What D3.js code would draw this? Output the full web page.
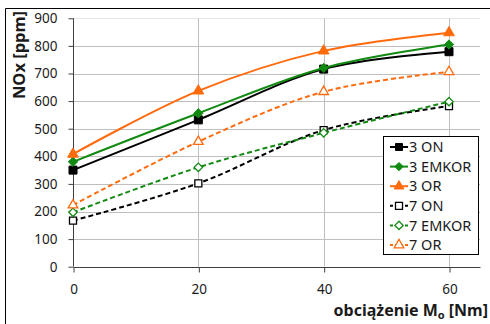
<!DOCTYPE html>
<html>
<head>
<meta charset="utf-8">
<script src="https://cdn.jsdelivr.net/npm/d3@7"></script>
<style>
    body { margin: 0; background: #fff; }
    text { font-family: "Noto Sans", sans-serif; fill: #1a1a1a; }
</style>
</head>
<body>
<div id="chart"></div>
<script>
// load values [Nm]
const loads = [0, 20, 40, 60];
const yTicks = [0, 100, 200, 300, 400, 500, 600, 700, 800, 900];

// NOx [ppm] per series
const on3 = [350, 532, 716, 779];
const emkor3 = [380, 556, 720, 805];
const or3 = [408, 637, 782, 848];
const on7 = [167, 302, 495, 582];
const emkor7 = [197, 360, 485, 598];
const or7 = [223, 453, 634, 706];

const seriesNames = ["3 ON", "3 EMKOR", "3 OR", "7 ON", "7 EMKOR", "7 OR"];
const seriesValues = [on3, emkor3, or3, on7, emkor7, or7];

const styles = [
    { color: "#000000", shape: "square", filled: true, dash: null },
    { color: "#128a12", shape: "diamond", filled: true, dash: null },
    { color: "#ff6a0d", shape: "triangle", filled: true, dash: null },
    { color: "#000000", shape: "square", filled: false, dash: "5,3" },
    { color: "#128a12", shape: "diamond", filled: false, dash: "5,3" },
    { color: "#ff6a0d", shape: "triangle", filled: false, dash: "5,3" }
];

const width = 490, height = 324;
const svg = d3.select("#chart").append("svg")
    .attr("width", width)
    .attr("height", height);

// outer frame (cropped on right/bottom)
svg.append("path")
    .attr("d", "M5.5,330 V8.5 H495")
    .attr("fill", "none")
    .attr("stroke", "#000")
    .attr("stroke-width", 1);

const x = d3.scaleLinear().domain([0, 60]).range([73, 449]);
const y = d3.scaleLinear().domain([0, 900]).range([266.7, 18.3]);
const plotRight = 480;

// gridlines
svg.append("g").selectAll("line")
    .data(yTicks.slice(1))
    .enter().append("line")
    .attr("x1", x(0)).attr("x2", plotRight)
    .attr("y1", d => Math.round(y(d)) + 0.5)
    .attr("y2", d => Math.round(y(d)) + 0.5)
    .attr("stroke", d => d === 900 ? "#e4e4e4" : "#bfbfbf")
    .attr("stroke-width", 1);

svg.append("g").selectAll("line")
    .data(loads.slice(1))
    .enter().append("line")
    .attr("y1", y(900)).attr("y2", y(0))
    .attr("x1", d => Math.round(x(d)) + 0.5)
    .attr("x2", d => Math.round(x(d)) + 0.5)
    .attr("stroke", "#bfbfbf")
    .attr("stroke-width", 1);

// axes
const xAxis = svg.append("g")
    .attr("transform", `translate(0.5,${Math.round(y(0)) + 0.5})`)
    .call(d3.axisBottom(x).tickValues(loads).tickSize(5).tickSizeOuter(0).tickFormat(d3.format("d")));
xAxis.select(".domain").attr("d", `M${x(0)},0H${plotRight}`);
xAxis.selectAll("line").attr("stroke", "#404040");
xAxis.select(".domain").attr("stroke", "#404040");
xAxis.selectAll("text")
    .attr("y", 22)
    .attr("dy", "0.35em")
    .style("font-family", "Noto Sans")
    .style("font-size", "13.5px")
    .attr("fill", "#1a1a1a");

const yAxis = svg.append("g")
    .attr("transform", `translate(${Math.round(x(0)) + 0.5},0)`)
    .call(d3.axisLeft(y).tickValues(yTicks).tickSize(5).tickSizeOuter(0));
yAxis.select(".domain").attr("stroke", "#404040").attr("d", `M0,${y(0)}V${y(900)}`);
yAxis.selectAll("line").attr("stroke", "#404040");
yAxis.selectAll("text")
    .attr("x", -16)
    .style("font-family", "Noto Sans")
    .style("font-size", "13.5px")
    .attr("fill", "#1a1a1a");

// axis titles
svg.append("text")
    .attr("transform", "translate(25,55) rotate(-90)")
    .attr("text-anchor", "middle")
    .style("font-size", "16.5px")
    .style("font-weight", "bold")
    .text("NOx [ppm]");

const xt = svg.append("text")
    .attr("x", 488)
    .attr("y", 316)
    .attr("text-anchor", "end")
    .style("font-size", "16px")
    .style("font-weight", "bold");
xt.append("tspan").text("obciążenie M");
xt.append("tspan").attr("dy", 3).style("font-size", "11px").text("o");
xt.append("tspan").attr("dy", -3).text(" [Nm]");

// markers
function marker(g, s, size) {
    const sym = s.shape === "square" ? d3.symbolSquare
        : s.shape === "diamond" ? d3.symbolDiamond2 : d3.symbolTriangle;
    const area = s.shape === "square" ? size * size : s.shape === "diamond" ? size * size * 0.55 : size * size * 0.5;
    return g.append("path")
        .attr("d", d3.symbol().type(sym).size(area)())
        .attr("fill", s.filled ? s.color : "#fff")
        .attr("stroke", s.color)
        .attr("stroke-width", s.filled ? 1 : 1.3);
}

const line = d3.line()
    .x((d, i) => x(loads[i]))
    .y(d => y(d))
    .curve(d3.curveCatmullRom.alpha(0.5));

// draw dashed series first, solid on top
const order = [3, 4, 5, 0, 1, 2];
order.forEach(k => {
    const s = styles[k];
    const g = svg.append("g");
    g.append("path")
        .datum(seriesValues[k])
        .attr("d", line)
        .attr("fill", "none")
        .attr("stroke", s.color)
        .attr("stroke-width", 2)
        .attr("stroke-dasharray", s.dash);
    seriesValues[k].forEach((v, i) => {
        const size = s.shape === "square" ? (s.filled ? 8 : 7) : (s.filled ? 10 : 9);
        const m = marker(g, s, size);
        m.attr("transform", `translate(${x(loads[i])},${y(v)})`);
    });
});

// legend
const legend = svg.append("g");
legend.append("rect")
    .attr("x", 383.5).attr("y", 136.5)
    .attr("width", 95).attr("height", 118)
    .attr("fill", "#fff")
    .attr("stroke", "#000")
    .attr("stroke-width", 1);

seriesNames.forEach((name, k) => {
    const s = styles[k];
    const cy = 147 + k * 19.6;
    const item = legend.append("g");
    item.append("line")
        .attr("x1", 390).attr("x2", 408)
        .attr("y1", cy).attr("y2", cy)
        .attr("stroke", s.color)
        .attr("stroke-width", 2)
        .attr("stroke-dasharray", s.dash ? "3,2" : null);
    marker(item, s, s.shape === "square" ? 7 : 9)
        .attr("transform", `translate(399,${cy})`);
    item.append("text")
        .attr("x", 409)
        .attr("y", cy)
        .attr("dy", "0.36em")
        .style("font-size", "14.5px")
        .text(name);
});
</script>
</body>
</html>
